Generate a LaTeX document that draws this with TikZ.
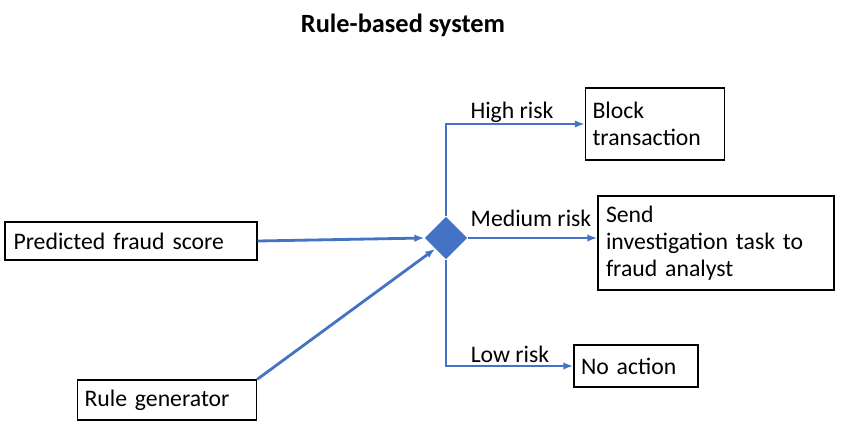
\documentclass[tikz,border=0pt]{standalone}
\usepackage{fontspec}
\setmainfont{Carlito}
\usetikzlibrary{shapes.geometric,arrows.meta}
\definecolor{flowblue}{HTML}{4472C4}
\begin{document}
\begin{tikzpicture}[font=\fontsize{13.5}{15.5}\selectfont]
  \tikzset{ box/.style={draw,thick,align=left,inner sep=4pt},
    link/.style={flowblue,line width=1.6pt,-{Latex[length=2mm]}},
  }
  \useasboundingbox (0,0) rectangle (16.84,8.68);
  \node[font=\fontsize{15}{18}\selectfont\bfseries] (title) at (8.06,8.18) {Rule-based system};

  \node[box, minimum width=5.04cm, minimum height=0.76cm, text width=4.7cm] (pred) at (2.62,3.86) {Predicted fraud score};
  \node[box, minimum width=3.58cm, minimum height=0.8cm, text width=3.3cm] (rule) at (3.34,0.68) {Rule generator};
  \node[diamond, fill=flowblue, minimum size=0.85cm, inner sep=0pt] (dia) at (8.92,3.92) {};

  \node[box, minimum width=2.72cm, minimum height=1.44cm, text width=2.5cm] (block) at (13.1,6.2) {Block\\transaction};
  \node[box, minimum width=4.72cm, minimum height=1.88cm, text width=4.4cm] (send) at (14.32,3.82) {Send\\investigation task to\\fraud analyst};
  \node[box, minimum width=2.48cm, minimum height=0.84cm, text width=2.2cm] (noact) at (12.72,1.36) {No action};

  \draw[link] (pred.east) -- (dia.west);
  \draw[link] (rule.north east) -- (dia.south west);
  \draw[link] (dia.north) |- (block.west);
  \draw[link] (dia.east) -- (dia.east -| send.west);
  \draw[link] (dia.south) |- (noact.west);

  \node (hlabel) at (10.24,6.44) {High risk};
  \node (mlabel) at (10.62,4.32) {Medium risk};
  \node (llabel) at (10.2,1.6) {Low risk};
\end{tikzpicture}
\end{document}
